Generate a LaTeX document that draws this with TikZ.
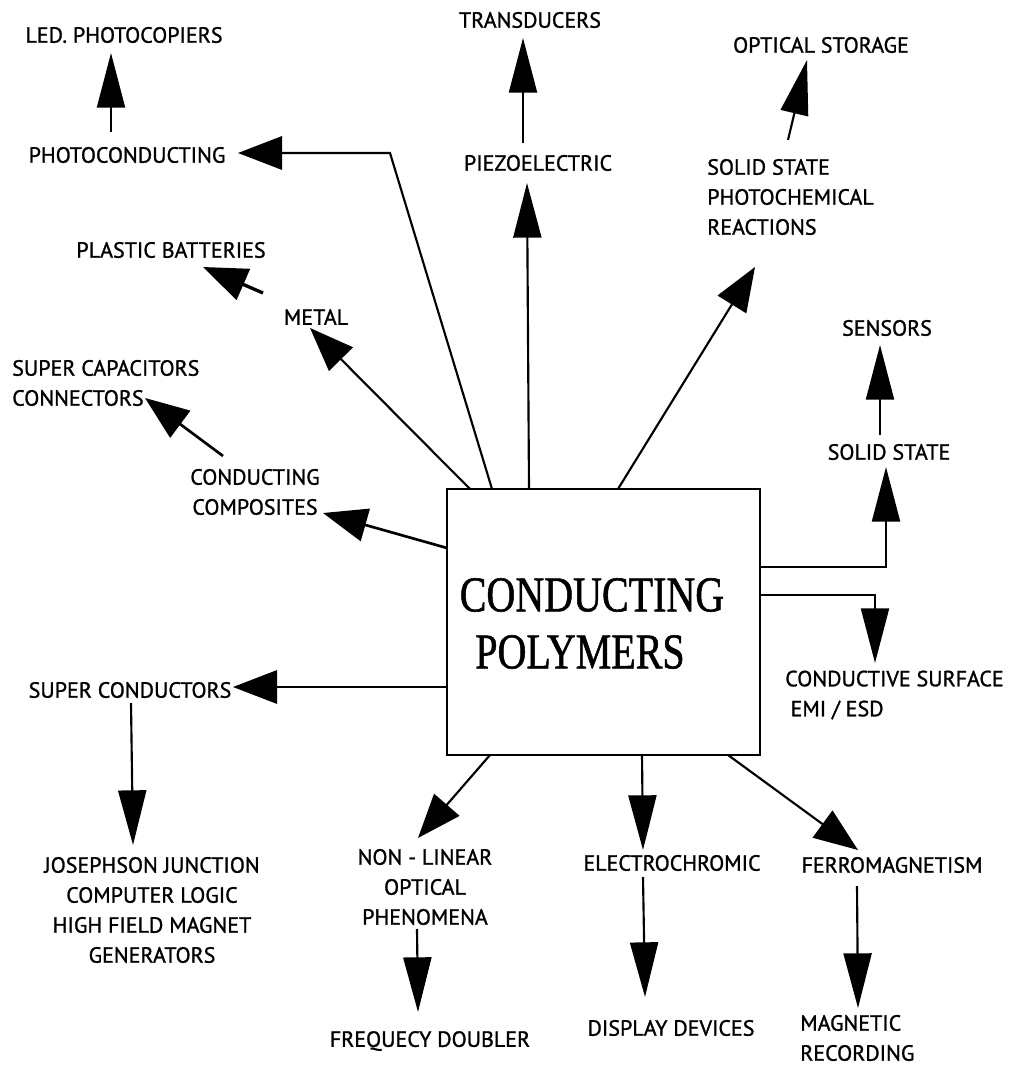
\documentclass[tikz,border=0pt]{standalone}
\usepackage{fontspec}
\setmainfont{PT Sans}
\newfontfamily\lblfont{PT Sans}[FakeBold=1.2]
\newfontfamily\titlefont{Liberation Serif}[FakeBold=1.2]
\usetikzlibrary{arrows.meta}
\begin{document}
\begin{tikzpicture}[x=0.75pt,y=-0.75pt,
  lbl/.style={font=\lblfont\fontsize{16.5}{22.5}\selectfont, inner sep=0pt},
  con/.style={line width=1.6pt, -{Triangle[length=41pt,width=21pt]}},
  fat/.style={line width=1.6pt, -{Triangle[length=33pt,width=25pt]}},
  ttl/.style={font=\titlefont\fontsize{37.5}{40}\selectfont, xscale=0.8, inner sep=0pt},
  boxst/.style={draw, line width=2pt, inner sep=0pt, minimum width=234.75pt, minimum height=199.5pt}
]
\useasboundingbox (0,0) rectangle (1021,1066);

% central box
\node[boxst] (box) at (603.5,622) {};
\node[ttl] (t1) at (592,595) {CONDUCTING};
\node[ttl] (t2) at (580,652) {POLYMERS};

% labels
\node[lbl] (led) at (124,35) {LED. PHOTOCOPIERS};
\node[lbl] (photo) at (127,155) {PHOTOCONDUCTING};
\node[lbl] (plast) at (171,250) {PLASTIC BATTERIES};
\node[lbl] (metal) at (316,317) {METAL};
\node[lbl, anchor=west, align=left] (supcap) at (12,383) {SUPER CAPACITORS\\CONNECTORS};
\node[lbl, align=center] (comp) at (255,492) {CONDUCTING\\COMPOSITES};
\node[lbl] (supcon) at (130,690) {SUPER CONDUCTORS};
\node[lbl, align=center] (joseph) at (152,910) {JOSEPHSON JUNCTION\\COMPUTER LOGIC\\HIGH FIELD MAGNET\\GENERATORS};
\node[lbl, align=center] (nonlin) at (425,887) {NON - LINEAR\\OPTICAL\\PHENOMENA};
\node[lbl] (freq) at (430,1041) {FREQUECY DOUBLER};
\node[lbl] (electro) at (672,863) {ELECTROCHROMIC};
\node[lbl] (display) at (671,1028) {DISPLAY DEVICES};
\node[lbl] (ferro) at (892,865) {FERROMAGNETISM};
\node[lbl, anchor=west, align=left] (magrec) at (800,1038) {MAGNETIC\\RECORDING};
\node[lbl, anchor=west, align=left] (condsurf) at (785,695) {CONDUCTIVE SURFACE\\\hspace*{4pt}EMI / ESD};
\node[lbl] (solid) at (889,452) {SOLID STATE};
\node[lbl] (sensors) at (887,328) {SENSORS};
\node[lbl, anchor=west, align=left] (photochem) at (707,197) {SOLID STATE\\PHOTOCHEMICAL\\REACTIONS};
\node[lbl] (optical) at (821,45) {OPTICAL STORAGE};
\node[lbl] (piezo) at (538,163) {PIEZOELECTRIC};
\node[lbl] (trans) at (530,20) {TRANSDUCERS};

% connector end points
\coordinate (sPhoto) at (492,489);
\coordinate (cPhoto) at (390,153);
\coordinate (ePhoto) at (238,153);
\coordinate (sLed) at (111,132);
\coordinate (eLed) at (111,53);
\coordinate (sPlast) at (263,293);
\coordinate (ePlast) at (203,267);
\coordinate (sMetal) at (470,489);
\coordinate (eMetal) at (310,328);
\coordinate (sSupcap) at (223,456);
\coordinate (eSupcap) at (145,398);
\coordinate (sComp) at (447,548);
\coordinate (eComp) at (323,513);
\coordinate (sSupcon) at (447,687);
\coordinate (eSupcon) at (233,687);
\coordinate (sJos) at (131,703);
\coordinate (eJos) at (133,845);
\coordinate (sNon) at (490,755);
\coordinate (eNon) at (418,838);
\coordinate (sFreq) at (417,929);
\coordinate (eFreq) at (418,1012);
\coordinate (sElec) at (642,755);
\coordinate (eElec) at (643,850);
\coordinate (sDisp) at (643,877);
\coordinate (eDisp) at (645,997);
\coordinate (sFerro) at (728,755);
\coordinate (eFerro) at (858,850);
\coordinate (sMag) at (857,886);
\coordinate (eMag) at (858,1008);
\coordinate (sSolid) at (760,567);
\coordinate (cSolid) at (886,567);
\coordinate (eSolid) at (886,467);
\coordinate (sSens) at (880,435);
\coordinate (eSens) at (880,345);
\coordinate (sCond) at (760,595);
\coordinate (cCond) at (875,595);
\coordinate (eCond) at (875,663);
\coordinate (sPiezo) at (529,489);
\coordinate (ePiezo) at (527,183);
\coordinate (sTrans) at (523,143);
\coordinate (eTrans) at (523,38);
\coordinate (sChem) at (618,489);
\coordinate (eChem) at (755,267);
\coordinate (sOpt) at (788,140);
\coordinate (eOpt) at (807,60);

% connectors
\draw[fat] (sPhoto) -- (cPhoto) -- (ePhoto);
\draw[con] (sLed) -- (eLed);
\draw[fat, line width=2.5pt] (sPlast) -- (ePlast);
\draw[fat] (sMetal) -- (eMetal);
\draw[fat, line width=2pt] (sSupcap) -- (eSupcap);
\draw[fat, line width=2pt] (sComp) -- (eComp);
\draw[fat] (sSupcon) -- (eSupcon);
\draw[con] (sJos) -- (eJos);
\draw[fat] (sNon) -- (eNon);
\draw[con] (sFreq) -- (eFreq);
\draw[con] (sElec) -- (eElec);
\draw[con] (sDisp) -- (eDisp);
\draw[fat] (sFerro) -- (eFerro);
\draw[con] (sMag) -- (eMag);
\draw[con] (sSolid) -- (cSolid) -- (eSolid);
\draw[con] (sSens) -- (eSens);
\draw[con] (sCond) -- (cCond) -- (eCond);
\draw[con] (sPiezo) -- (ePiezo);
\draw[con] (sTrans) -- (eTrans);
\draw[fat] (sChem) -- (eChem);
\draw[con] (sOpt) -- (eOpt);
\end{tikzpicture}
\end{document}
